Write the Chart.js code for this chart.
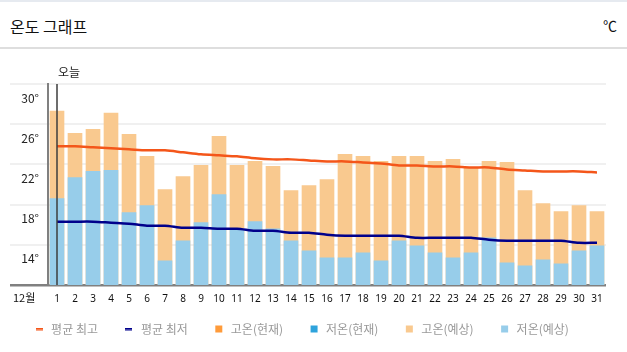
<!DOCTYPE html>
<html>
<head>
<meta charset="utf-8">
<script src="https://cdn.jsdelivr.net/npm/chart.js@4.4.1/dist/chart.umd.min.js"></script>
<style>
  body { margin: 0; width: 627px; height: 352px; overflow: hidden; background: #fff; font-family: "Noto Sans CJK KR", "Noto Sans", sans-serif; }
  .head { position: absolute; left: 0; top: 0; width: 627px; height: 45px; border-top: 2px solid #e6eaf0; border-bottom: 2px solid #dedede; }
  .head .title { position: absolute; left: 10px; top: 12px; font-size: 16px; color: #111; }
  .head .unit { position: absolute; right: 10px; top: 13px; font-size: 14px; color: #111; }
  .wrap { position: absolute; left: 0; top: 48px; width: 627px; height: 304px; }
</style>
</head>
<body>
<div class="head"><span class="title">온도 그래프</span><span class="unit">℃</span></div>
<div class="wrap"><canvas id="tempChart"></canvas></div>
<script>
const days = ['1','2','3','4','5','6','7','8','9','10','11','12','13','14','15','16','17','18','19','20','21','22','23','24','25','26','27','28','29','30','31'];
const avgHigh = [23.8,23.8,23.7,23.6,23.5,23.4,23.4,23.2,23.0,22.9,22.8,22.6,22.5,22.5,22.4,22.3,22.3,22.2,22.1,21.9,21.9,21.8,21.8,21.7,21.7,21.5,21.4,21.3,21.3,21.3,21.2];
const avgLow = [16.3,16.3,16.3,16.2,16.1,15.9,15.9,15.7,15.7,15.6,15.6,15.4,15.4,15.2,15.2,15.0,14.9,14.9,14.9,14.9,14.7,14.7,14.7,14.7,14.5,14.4,14.4,14.4,14.4,14.2,14.2];
const highNow = [];
const lowNow = [];
const highFcst = [27.3,25.1,25.5,27.1,25.0,22.8,19.5,20.8,21.9,24.8,21.9,22.3,21.8,19.4,19.9,20.5,23.0,22.8,22.3,22.8,22.8,22.3,22.5,21.7,22.3,22.2,19.4,18.1,17.3,17.9,17.3];
const lowFcst = [18.6,20.7,21.3,21.4,17.2,17.9,12.4,14.4,16.2,19.0,15.6,16.3,15.6,14.4,13.4,12.7,12.7,13.2,12.4,14.4,13.9,13.2,12.7,13.2,14.7,12.2,11.9,12.5,12.1,13.4,13.9];
const yTicks = [10,14,18,22,26,30];
const monthLabel = '12월';
const todayLabel = '오늘';

const LEGEND_PAD = 25;

// 범례용 짧은 선 마커
function dash(color) {
  const c = document.createElement('canvas');
  c.width = 7; c.height = 3;
  const g = c.getContext('2d');
  g.fillStyle = color;
  g.fillRect(0, 0, 7, 2.5);
  return c;
}

// 오늘 표시선 + 라벨, 12월 표시
const extras = {
  id: 'extras',
  afterLayout(chart) {
    // 범례 줄 위치: 축 아래 44px, 살짝 왼쪽으로
    const lg = chart.legend;
    const shift = lg.top + LEGEND_PAD + 6 - (chart.chartArea.bottom + 44);
    lg.top -= shift;
    lg.bottom -= shift;
    lg.left -= 7;
    lg.right -= 7;
  },
  afterDatasetsDraw(chart) {
    const { ctx, chartArea, scales } = chart;
    const x = scales.x.getPixelForValue(0);
    ctx.save();
    ctx.strokeStyle = 'rgba(60,60,60,0.75)';
    ctx.lineWidth = 2;
    ctx.beginPath();
    ctx.moveTo(x, chartArea.top);
    ctx.lineTo(x, chartArea.bottom);
    ctx.stroke();
    ctx.fillStyle = '#222';
    ctx.font = '12px "Noto Sans CJK KR"';
    ctx.textBaseline = 'middle';
    ctx.fillText(todayLabel, x + 1, chartArea.top - 12);
    ctx.font = '11px "Noto Sans CJK KR"';
    ctx.fillStyle = '#111';
    ctx.fillText(monthLabel, 13, chartArea.bottom + 13);
    ctx.restore();
  }
};

new Chart(document.getElementById('tempChart'), {
  data: {
    labels: days,
    datasets: [
      { type: 'line', label: '평균 최고', data: avgHigh, borderColor: '#f4561a', backgroundColor: '#f4561a', borderWidth: 2.5, pointRadius: 0, tension: 0.3, order: 0 },
      { type: 'line', label: '평균 최저', data: avgLow, borderColor: '#00008b', backgroundColor: '#00008b', borderWidth: 2.5, pointRadius: 0, tension: 0.3, order: 0 },
      { type: 'bar', label: '고온(현재)', data: highNow, backgroundColor: '#ff9b3a', barThickness: 14, grouped: false, order: 2 },
      { type: 'bar', label: '저온(현재)', data: lowNow, backgroundColor: '#2ea3dc', barThickness: 14, grouped: false, order: 1 },
      { type: 'bar', label: '고온(예상)', data: highFcst, backgroundColor: '#f9c98f', barThickness: 14, grouped: false, order: 2 },
      { type: 'bar', label: '저온(예상)', data: lowFcst, backgroundColor: '#97cdea', barThickness: 14, grouped: false, order: 1 }
    ]
  },
  options: {
    responsive: true, maintainAspectRatio: false, animation: false,
    layout: { padding: { left: 10, right: 21, top: 36, bottom: 0 } },
    plugins: {
      tooltip: { enabled: false },
      legend: {
        position: 'bottom',
        maxHeight: 48,
        labels: {
          usePointStyle: true, boxWidth: 12, boxHeight: 7, padding: LEGEND_PAD,
          color: '#999', font: { size: 12, family: '"Noto Sans CJK KR"' },
          sort: (a, b) => a.datasetIndex - b.datasetIndex,
          generateLabels(chart) {
            const items = Chart.defaults.plugins.legend.labels.generateLabels(chart);
            items.forEach(it => {
              const isLine = it.datasetIndex < 2;
              it.pointStyle = isLine ? dash(it.strokeStyle) : 'rect';
              it.lineWidth = 0;
            });
            return items;
          }
        }
      }
    },
    scales: {
      x: {
        afterFit(scale) { scale.height = 20; },
        grid: { display: false, drawTicks: false },
        border: { display: false },
        ticks: { color: '#111', font: { size: 10, family: '"Noto Sans"' }, padding: 8, maxRotation: 0, autoSkip: false }
      },
      y: {
        min: 10, max: 30,
        afterFit(scale) { scale.width = 38; },
        afterBuildTicks(scale) { scale.ticks = yTicks.map(v => ({ value: v })); },
        border: { display: true, color: '#808080', width: 2 },
        grid: {
          tickLength: 38,
          color: c => c.tick && c.tick.value === 10 ? '#808080' : '#f0f0f0',
          lineWidth: c => c.tick && c.tick.value === 10 ? 2.5 : 2
        },
        ticks: {
          padding: -29, labelOffset: 14, color: '#222',
          font: { size: 12, family: '"Noto Sans CJK KR"' },
          callback: v => v === 10 ? '' : v + '°'
        }
      }
    }
  },
  plugins: [extras]
});
</script>
</body>
</html>
